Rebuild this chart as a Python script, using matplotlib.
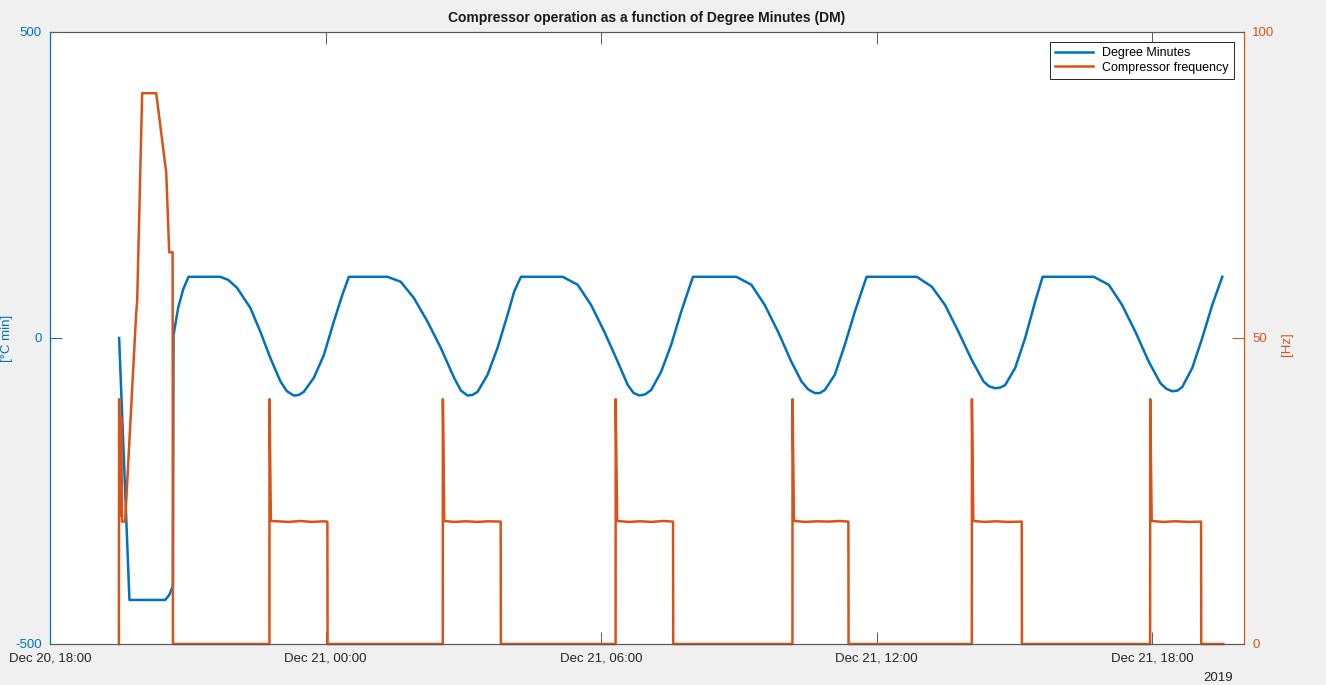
import datetime as dt
import matplotlib
matplotlib.use("Agg")
import matplotlib.pyplot as plt
import matplotlib.dates as mdates

plt.rcParams['font.family'] = ['Liberation Sans', 'DejaVu Sans']
plt.rcParams['axes.unicode_minus'] = False

# hours after Dec 20 2019, 18:00
dm_hours = [1.505, 1.730, 2.509, 2.596, 2.677, 2.690, 2.793, 2.902, 3.017,
            3.709, 3.88, 4.073, 4.364, 4.582, 4.800, 5.018, 5.16, 5.308, 5.42,
            5.527, 5.745, 5.963, 6.181, 6.364, 6.508,
            7.346, 7.636, 7.927, 8.219, 8.509, 8.799, 8.95, 9.092, 9.20, 9.310,
            9.528, 9.746, 9.964, 10.108, 10.255,
            11.164, 11.491, 11.782, 12.072, 12.364, 12.582, 12.71, 12.836,
            12.96, 13.091, 13.309, 13.527, 13.745, 13.892, 14.001,
            14.945, 15.273, 15.563, 15.855, 16.145, 16.364, 16.51, 16.654,
            16.76, 16.872, 17.090, 17.308, 17.526, 17.673, 17.782,
            18.873, 19.200, 19.490, 19.783, 20.073, 20.328, 20.45, 20.581,
            20.69, 20.799, 21.017, 21.235, 21.454, 21.615,
            22.728, 23.055, 23.345, 23.636, 23.928, 24.181, 24.31, 24.436,
            24.55, 24.655, 24.873, 25.091, 25.309, 25.527]
dm_values = [0, -428, -428, -420, -405, 5, 50, 80, 100,
             100, 95, 82, 49, 10, -33, -71, -87, -94, -93,
             -88, -65, -28, 27, 70, 100,
             100, 92, 65, 27, -16, -65, -86, -94, -93, -88,
             -60, -16, 38, 76, 100,
             100, 87, 54, 10, -39, -77, -90, -94,
             -92, -85, -55, -11, 43, 76, 100,
             100, 87, 54, 10, -39, -71, -84, -90,
             -90, -85, -60, -11, 43, 76, 100,
             100, 84, 54, 10, -36, -71, -79, -82,
             -81, -77, -49, 0, 60, 100,
             100, 87, 54, 10, -39, -74, -83, -87,
             -86, -80, -49, 0, 54, 100]

comp_hours = [1.500, 1.505, 1.53, 1.55, 1.57, 1.636, 1.876, 1.898, 2.007,
              2.313, 2.531, 2.596, 2.670, 2.677,
              4.778, 4.780, 4.81, 4.95, 5.2, 5.45, 5.7, 5.95, 6.040, 6.044,
              8.553, 8.555, 8.585, 8.8, 9.05, 9.3, 9.55, 9.814, 9.818,
              12.316, 12.318, 12.35, 12.6, 12.85, 13.1, 13.35, 13.567, 13.571,
              16.167, 16.169, 16.20, 16.45, 16.7, 16.95, 17.2, 17.385, 17.389,
              20.073, 20.075, 20.105, 20.35, 20.6, 20.85, 21.160, 21.164,
              23.956, 23.958, 23.99, 24.25, 24.5, 24.8, 25.065, 25.069,
              25.549]
comp_hz = [0, 40, 21, 37, 20, 20, 54, 56, 90,
           90, 77, 64, 64, 0,
           0, 40, 20.1, 20.05, 19.95, 20.1, 19.95, 20.05, 20, 0,
           0, 40, 20.1, 19.95, 20.05, 19.95, 20.05, 20, 0,
           0, 40, 20.1, 19.95, 20.05, 19.95, 20.1, 20, 0,
           0, 40, 20.1, 19.95, 20.05, 20.0, 20.1, 20, 0,
           0, 40, 20.1, 19.95, 20.05, 19.95, 20, 0,
           0, 40, 20.1, 19.95, 20.05, 19.95, 20, 0,
           0]

tick_hours = [0, 6, 12, 18, 24]

start = dt.datetime(2019, 12, 20, 18, 0)


def to_time(hours):
    return [start + dt.timedelta(hours=h) for h in hours]


blue = '#0072BD'
orange = '#D95319'
frame = '#5a5a5a'

fig = plt.figure(figsize=(13.26, 6.85), dpi=100, facecolor='#f0f0f0')
ax = fig.add_axes([50 / 1326, 41 / 685, 1194 / 1326, 612 / 685])
ax2 = ax.twinx()

l1, = ax.plot(to_time(dm_hours), dm_values, color=blue, lw=1.8,
              label='Degree Minutes')
l2, = ax2.plot(to_time(comp_hours), comp_hz, color=orange, lw=1.8,
               label='Compressor frequency', clip_on=False)

ax.set_xlim(start, start + dt.timedelta(hours=26))
ax.set_ylim(-500, 500)
ax2.set_ylim(0, 100)
ax.set_yticks([-500, 0, 500])
ax2.set_yticks([0, 50, 100])
ax.set_xticks(to_time(tick_hours))
ax.xaxis.set_major_formatter(mdates.DateFormatter('%b %d, %H:%M'))

ax.tick_params(axis='x', direction='in', length=8.6, width=0.7, color=frame,
               top=True, labelsize=9.5, pad=6, labelcolor='#262626')
ax.tick_params(axis='y', direction='in', length=8.6, width=0.7, colors=blue,
               labelsize=9.5, pad=6)
ax2.tick_params(axis='y', direction='in', length=8.6, width=0.7, colors=orange,
                labelsize=9.5, pad=6)

for a in (ax, ax2):
    a.spines['top'].set_color(frame)
    a.spines['bottom'].set_color(frame)
    a.spines['left'].set_color(blue)
    a.spines['right'].set_color(orange)
    for s in a.spines.values():
        s.set_linewidth(0.8)

ax.set_ylabel('[°C min]', color=blue, fontsize=9.5)
ax.yaxis.set_label_coords(-0.031, 0.5)
ax2.set_ylabel('[Hz]', color=orange, fontsize=9.5)
ax2.yaxis.set_label_coords(1.031, 0.49)

ax.set_title('Compressor operation as a function of Degree Minutes (DM)',
             fontsize=10, fontweight='bold', pad=7, color='#1a1a1a')

leg = ax2.legend([l1, l2], [l1.get_label(), l2.get_label()], loc='upper right',
                 fontsize=9, fancybox=False, framealpha=1, edgecolor='#262626',
                 handlelength=3, borderaxespad=0.8, borderpad=0.4,
                 labelspacing=0.2)
leg.get_frame().set_linewidth(0.7)

fig.text(1218 / 1326, 1 - 678 / 685, '2019', ha='center', va='center',
         fontsize=9.5, color='#262626')

fig.savefig('out.png', dpi=100, facecolor=fig.get_facecolor())
